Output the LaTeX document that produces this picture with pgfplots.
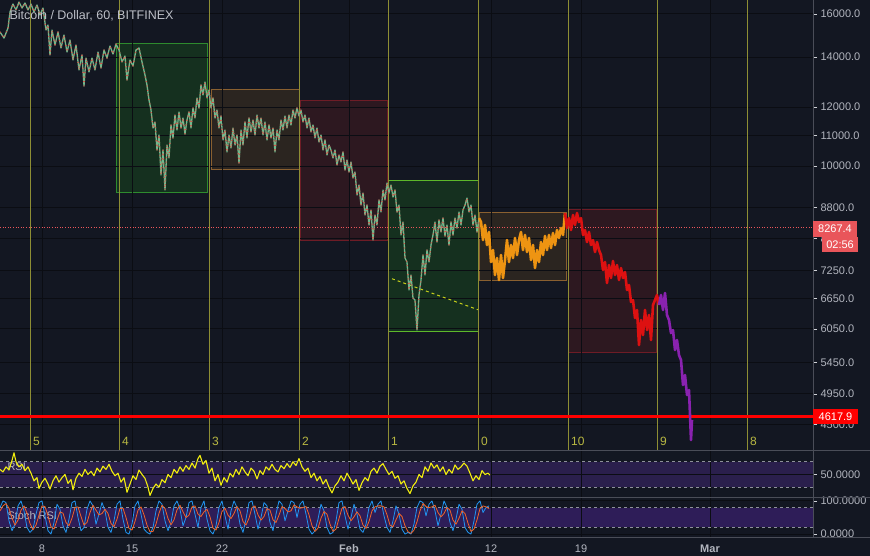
\documentclass[border=0pt]{standalone}
\usepackage{pgfplots}
\usepackage{pgfplotstable}
\pgfplotsset{compat=1.18}
\usepackage{fontspec}
\setmainfont{Liberation Sans}
\definecolor{bg}{HTML}{131722}
\definecolor{gridc}{HTML}{0B0D13}
\definecolor{txt}{HTML}{B2B5BE}
\definecolor{sep}{HTML}{4A4D58}
\definecolor{vline}{HTML}{8E8E34}
\definecolor{vlab}{HTML}{B8B842}
\definecolor{upc}{HTML}{72B88C}
\definecolor{dnc}{HTML}{D0564A}
\definecolor{orng}{HTML}{EE9412}
\definecolor{redc}{HTML}{DD1111}
\definecolor{purp}{HTML}{8A22B0}
\definecolor{gbox}{HTML}{15301F}
\definecolor{gboxl}{HTML}{2E8B2E}
\definecolor{gbox2l}{HTML}{5DB82A}
\definecolor{tbox}{HTML}{2B2520}
\definecolor{tboxl}{HTML}{8A6030}
\definecolor{rbox}{HTML}{2D1820}
\definecolor{rboxl}{HTML}{6E1C26}
\definecolor{rsiband}{HTML}{2A1F4C}
\definecolor{stband}{HTML}{2E1D58}
\definecolor{dashc}{HTML}{8E919A}
\definecolor{rsiy}{HTML}{F2EE0E}
\definecolor{kblue}{HTML}{2196F3}
\definecolor{dorng}{HTML}{F0642A}
\definecolor{labred}{HTML}{E9555A}
\definecolor{trend}{HTML}{C6D01A}
\pagecolor{bg}

\pgfplotstableread{
t p
0 15130
4 14850
8 15316
10 16093
13 16495
16 16193
19 16597
22 16293
25 16546
28 16193
31 16495
34 16093
37 16444
40 15945
43 16293
46 15223
48 15459
50 14091
52 15223
55 14533
58 15130
61 14400
64 14989
67 14223
70 14760
73 13876
76 14533
79 13454
82 14091
84 12805
86 13960
89 13372
92 13960
95 13454
98 14223
101 13538
104 14311
107 13960
110 14488
113 14135
116 14578
119 14311
122 13790
125 14047
127 13045
130 13876
133 13621
136 14311
139 14400
142 13790
145 13248
147 12845
149 12264
151 11891
153 11248
155 11458
157 10509
159 11007
161 9728
163 10509
165 9288
167 10672
169 10253
171 11352
173 10906
175 11709
177 11179
179 11818
181 11248
183 11600
185 11041
187 11529
189 11818
191 11248
193 11965
195 11600
197 12340
199 11965
201 12845
203 12454
205 12965
207 12340
209 12648
211 11965
213 12340
215 11600
217 11891
219 11248
221 11673
223 10839
225 11179
227 10444
229 11007
231 10574
233 11248
235 10672
237 11007
239 10096
241 11179
243 10672
245 11458
247 10906
249 11600
251 11110
253 11529
255 11007
257 11709
259 11248
261 11600
263 11007
265 11458
267 10839
269 11352
271 10906
273 11248
275 10444
277 11179
279 10839
281 11529
283 11179
285 11673
287 11248
289 11709
291 11352
293 11891
295 11600
297 11965
299 11673
301 11891
303 11458
305 11709
307 11248
309 11600
311 11110
313 11352
315 10906
317 11248
319 10772
321 11007
323 10509
325 10839
327 10348
329 10672
331 10509
333 10253
335 10509
337 10033
339 10348
341 10127
343 10444
345 9880
347 10190
349 9819
351 10127
353 9638
355 9819
357 9145
359 9432
361 8867
363 9202
365 8598
367 8867
369 8336
371 8732
373 7959
375 8598
377 8336
379 9006
381 8678
383 9288
385 9006
387 9491
389 9202
391 9432
393 9089
395 9288
397 8678
399 8867
401 8083
403 8414
405 7529
407 7437
409 6821
411 7144
413 6653
415 6613
417 6028
419 6716
421 7035
423 7599
425 7144
427 7717
429 7437
431 7837
433 8083
435 8414
437 7910
439 8466
441 8158
443 8518
445 8058
447 8336
449 7837
451 8414
453 8083
455 8518
457 8260
459 8678
461 8336
463 8732
465 8867
467 9060
469 8678
471 8867
473 8336
475 8598
477 8158
479 8518
}\priceA

\pgfplotstableread{
t p
479 8518
481 8414
483 7959
485 8336
487 7837
489 8158
491 7437
493 7717
495 7144
497 7529
499 7035
501 7599
503 7078
505 7483
507 7959
509 7437
511 7837
513 7529
515 8008
517 7599
519 7959
521 8158
523 7717
525 8083
527 7670
529 8008
531 7483
533 7837
535 7300
537 7717
539 7437
541 7910
543 7599
545 8058
547 7717
549 8083
551 7765
553 8133
555 7837
557 8209
559 8008
561 8260
563 8083
565 8651
}\priceB

\pgfplotstableread{
t p
565 8651
567 8260
569 8518
571 8209
573 8598
575 8336
577 8651
579 8414
581 8518
583 8083
585 8209
587 7910
589 8158
591 7837
593 7959
595 7670
597 7910
599 7717
601 7599
603 7255
605 7437
607 6970
609 7368
611 7078
613 7460
615 7144
617 7368
619 7035
621 7300
623 7078
625 7211
627 6821
629 6927
631 6573
633 6613
635 6256
637 6412
639 5755
641 6217
643 5936
645 6412
647 6028
649 6314
651 5845
653 6512
655 6613
657 6716
659 6512
}\priceC

\pgfplotstableread{
t p
659 6512
661 6716
663 6412
665 6757
667 6314
669 6217
671 5973
673 6028
675 5667
677 5845
679 5580
681 5495
683 5087
685 5246
687 4932
689 5009
691 4292
692 4566
}\priceD

\pgfplotstableread{
t r
0 58
3 54
6 62
9 57
12 72
14 84
16 70
19 62
22 66
25 56
28 62
31 52
34 40
37 45
39 28
42 38
45 44
48 35
50 27
53 40
56 48
59 38
62 45
65 50
68 36
71 42
73 26
76 44
79 52
82 47
85 58
88 50
91 55
94 48
97 60
100 54
103 63
106 58
109 66
112 55
115 48
118 52
121 38
124 45
127 22
130 35
133 48
136 42
139 57
142 50
145 44
148 30
150 17
153 28
156 35
159 30
162 42
165 37
168 50
171 45
174 58
177 52
180 62
183 55
186 64
189 58
192 68
195 60
198 75
200 80
203 66
206 72
209 52
212 60
215 40
218 50
221 33
224 45
227 38
230 52
233 46
236 58
239 50
242 62
245 54
248 48
251 60
254 55
257 43
260 56
263 50
266 62
269 57
272 66
275 58
278 54
281 64
284 59
287 67
290 61
293 70
296 64
299 75
302 62
305 55
308 60
311 45
314 52
317 40
320 47
323 35
326 42
329 30
332 21
335 32
338 38
341 48
344 40
347 52
350 44
353 35
356 42
359 25
362 37
365 45
368 40
371 55
374 60
377 52
380 63
383 67
386 58
389 50
392 55
395 44
398 48
401 35
404 40
407 28
410 20
413 32
416 38
419 50
422 45
425 62
428 55
431 68
434 60
437 65
440 55
443 62
446 50
449 58
452 52
455 65
458 58
461 62
464 68
467 63
470 52
473 40
476 48
479 42
482 56
485 50
488 52
490 49
}\rsi

\pgfplotstableread{
t k d
0 80 70
3 100 85
6 95 92
9 40 78
12 10 48
15 30 27
18 85 42
21 100 72
24 70 85
27 20 63
30 5 32
33 15 13
36 60 27
39 95 57
42 100 85
45 55 83
48 10 55
51 0 22
54 35 15
57 90 42
60 75 67
63 25 63
66 5 35
69 45 25
72 95 48
75 100 80
78 50 82
81 10 53
84 20 27
87 75 35
90 100 65
93 85 87
96 30 72
99 60 58
102 95 62
105 70 75
108 20 62
111 5 32
114 40 22
117 90 45
120 100 77
123 45 78
126 5 50
129 0 17
132 30 12
135 85 38
138 100 72
141 60 82
144 15 58
147 5 27
150 0 7
153 20 8
156 70 30
159 100 63
162 90 87
165 40 77
168 10 47
171 35 28
174 85 43
177 100 73
180 75 87
183 25 67
186 50 50
189 95 57
192 100 82
195 60 85
198 20 60
201 80 53
204 100 67
207 45 75
210 10 52
213 0 18
216 25 12
219 80 35
222 100 68
225 55 78
228 15 57
231 70 47
234 100 62
237 80 83
240 30 70
243 5 38
246 45 27
249 95 48
252 100 80
255 60 85
258 15 58
261 50 42
264 95 53
267 85 77
270 35 72
273 10 43
276 60 35
279 100 57
282 90 83
285 40 77
288 70 67
291 100 70
294 95 88
297 50 82
300 90 78
303 100 80
306 60 83
309 15 58
312 0 25
315 10 8
318 45 18
321 90 48
324 70 68
327 20 60
330 0 30
333 5 8
336 40 15
339 95 47
342 100 78
345 55 83
348 15 57
351 50 40
354 90 52
357 60 67
360 15 55
363 5 27
366 30 17
369 80 38
372 100 70
375 65 82
378 90 85
381 100 85
384 55 82
387 20 58
390 5 27
393 40 22
396 85 43
399 60 62
402 15 53
405 0 25
408 5 7
411 0 2
414 30 12
417 80 37
420 100 70
423 95 92
426 55 83
429 90 80
432 100 82
435 70 87
438 25 65
441 60 52
444 100 62
447 80 80
450 35 72
453 10 42
456 45 30
459 90 48
462 75 70
465 20 62
468 5 33
471 0 8
474 40 15
477 90 43
480 100 77
483 65 85
486 80 82
489 85 77
}\stoch

\pgfplotsset{
  panel/.style={
    scale only axis, anchor=south west, width=813pt, xmin=0, xmax=813,
    axis line style={draw=none}, set layers,
    xtick={42,132,222,349,491,581,710},
    xtick style={draw=none},
    ytick pos=right, yticklabel pos=right, tick align=outside,
    major tick length=4pt,
    ytick style={color=txt!60, line width=0.5pt},
    yticklabel style={font=\fontsize{11}{13}\selectfont, text=txt},
    grid=major, major grid style={draw=gridc, line width=0.9pt},
  }
}

\begin{document}
\begin{tikzpicture}

% ---------------- main price panel ----------------
\begin{axis}[panel,
  at={(0pt,106pt)}, height=450pt,
  ymode=log, ymin=4162, ymax=16700,
  xticklabels={},
  ytick={4500,4950,5450,6050,6650,7250,8000,8800,10000,11000,12000,14000,16000},
  yticklabels={4500.0,4950.0,5450.0,6050.0,6650.0,7250.0,8000.0,8800.0,10000.0,11000.0,12000.0,14000.0,16000.0},
]
\begin{pgfonlayer}{axis background}
\filldraw[fill=gbox, draw=gboxl, line width=0.8pt] (axis cs:116,14620) rectangle (axis cs:207,9210);
\filldraw[fill=tbox, draw=tboxl, line width=0.8pt] (axis cs:211,12690) rectangle (axis cs:299,9886);
\filldraw[fill=rbox, draw=rboxl, line width=0.8pt] (axis cs:300,12260) rectangle (axis cs:387,7958);
\filldraw[fill=gbox, draw=gbox2l, line width=0.8pt] (axis cs:388,9557) rectangle (axis cs:478,6007);
\filldraw[fill=tbox, draw=tboxl, line width=0.8pt] (axis cs:479,8659) rectangle (axis cs:566,7020);
\filldraw[fill=rbox, draw=rboxl, line width=0.8pt] (axis cs:568,8740) rectangle (axis cs:656,5630);
\end{pgfonlayer}
\draw[vline, line width=0.9pt] (axis cs:30,4162) -- (axis cs:30,16700);
\draw[vline, line width=0.9pt] (axis cs:119,4162) -- (axis cs:119,16700);
\draw[vline, line width=0.9pt] (axis cs:209,4162) -- (axis cs:209,16700);
\draw[vline, line width=0.9pt] (axis cs:299,4162) -- (axis cs:299,16700);
\draw[vline, line width=0.9pt] (axis cs:388,4162) -- (axis cs:388,16700);
\draw[vline, line width=0.9pt] (axis cs:478,4162) -- (axis cs:478,16700);
\draw[vline, line width=0.9pt] (axis cs:568,4162) -- (axis cs:568,16700);
\draw[vline, line width=0.9pt] (axis cs:657,4162) -- (axis cs:657,16700);
\draw[vline, line width=0.9pt] (axis cs:747,4162) -- (axis cs:747,16700);
\addplot[labred, dotted, line width=0.6pt] coordinates {(0,8267.4) (813,8267.4)};
\addplot[red, line width=2.6pt] coordinates {(0,4617.9) (813,4617.9)};
\addplot[trend, dashed, line width=1pt] coordinates {(392,7063) (478,6418)};
\addplot[upc, line width=1.3pt, line join=round] table[x=t,y=p] {\priceA};
\addplot[dnc, line width=1.3pt, line join=round, dash pattern=on 1pt off 3.5pt] table[x=t,y=p] {\priceA};
\addplot[orng, line width=2.6pt, line join=round] table[x=t,y=p] {\priceB};
\addplot[redc, line width=2.6pt, line join=round] table[x=t,y=p] {\priceC};
\addplot[purp, line width=2.6pt, line join=round] table[x=t,y=p] {\priceD};
\end{axis}

% ---------------- RSI panel ----------------
\begin{axis}[panel,
  at={(0pt,59pt)}, height=46pt,
  ymin=14.6, ymax=86.9,
  xticklabels={},
  ytick={50}, yticklabels={50.0000},
]
\begin{pgfonlayer}{axis background}
\fill[rsiband] (axis cs:0,30) rectangle (axis cs:813,70);
\end{pgfonlayer}
\draw[dashc, dash pattern=on 3pt off 3pt, line width=0.8pt] (axis cs:0,70) -- (axis cs:813,70);
\draw[dashc, dash pattern=on 3pt off 3pt, line width=0.8pt] (axis cs:0,30) -- (axis cs:813,30);
\node[anchor=west, text=txt, font=\fontsize{11}{13}\selectfont] at (axis cs:4,62) {RSI};
\addplot[rsiy, line width=1.1pt, line join=round] table[x=t,y=r] {\rsi};
\end{axis}

% ---------------- Stoch RSI panel ----------------
\begin{axis}[panel,
  at={(0pt,19pt)}, height=39pt,
  ymin=-8.8, ymax=108.8,
  xticklabels={8,15,22,\textbf{Feb},12,19,\textbf{Mar}},
  xticklabel style={font=\fontsize{11}{13}\selectfont, text=txt},
  ytick={0,100}, yticklabels={0.0000,100.0000},
]
\begin{pgfonlayer}{axis background}
\fill[stband] (axis cs:0,20) rectangle (axis cs:813,80);
\end{pgfonlayer}
\draw[dashc, dash pattern=on 3pt off 3pt, line width=0.8pt] (axis cs:0,80) -- (axis cs:813,80);
\draw[dashc, dash pattern=on 3pt off 3pt, line width=0.8pt] (axis cs:0,20) -- (axis cs:813,20);
\node[anchor=west, text=txt, font=\fontsize{11}{13}\selectfont] at (axis cs:4,55) {Stoch RSI};
\addplot[kblue, line width=0.8pt, line join=round] table[x=t,y=k] {\stoch};
\addplot[dorng, line width=0.8pt, line join=round] table[x=t,y=d] {\stoch};
\end{axis}

% ---------------- frame, labels ----------------
\draw[sep, line width=0.8pt] (0pt,105.5pt) -- (870pt,105.5pt);
\draw[sep, line width=0.8pt] (0pt,58.5pt) -- (870pt,58.5pt);
\draw[sep, line width=0.8pt] (0pt,18.5pt) -- (870pt,18.5pt);
\draw[sep, line width=0.8pt] (813.5pt,18.5pt) -- (813.5pt,556pt);

\node[anchor=west, text=txt!85!white, font=\fontsize{12.5}{14}\selectfont] at (6pt,540pt) {Bitcoin / Dollar, 60, BITFINEX};

\foreach \xx/\lab in {33/5,122/4,212/3,302/2,391/1,481/0,571/10,660/9,750/8}
  \node[anchor=west, inner sep=0pt, text=vlab, font=\fontsize{12}{14}\selectfont] at (\xx pt,115pt) {\lab};

\node[fill=labred, text=white, anchor=west, inner xsep=5pt, inner ysep=0pt, minimum height=16pt, font=\fontsize{11}{13}\selectfont] at (813pt,327pt) {8267.4};
\node[fill=labred, text=white, anchor=east, inner xsep=4pt, inner ysep=0pt, minimum height=15pt, font=\fontsize{11}{13}\selectfont] at (858pt,311.5pt) {02:56};
\node[fill=red, text=white, anchor=west, inner xsep=5.5pt, inner ysep=0pt, minimum height=15pt, font=\fontsize{11}{13}\selectfont] at (813pt,139.5pt) {4617.9};

\pgfresetboundingbox
\path (0pt,0pt) rectangle (870pt,556pt);
\end{tikzpicture}
\end{document}
